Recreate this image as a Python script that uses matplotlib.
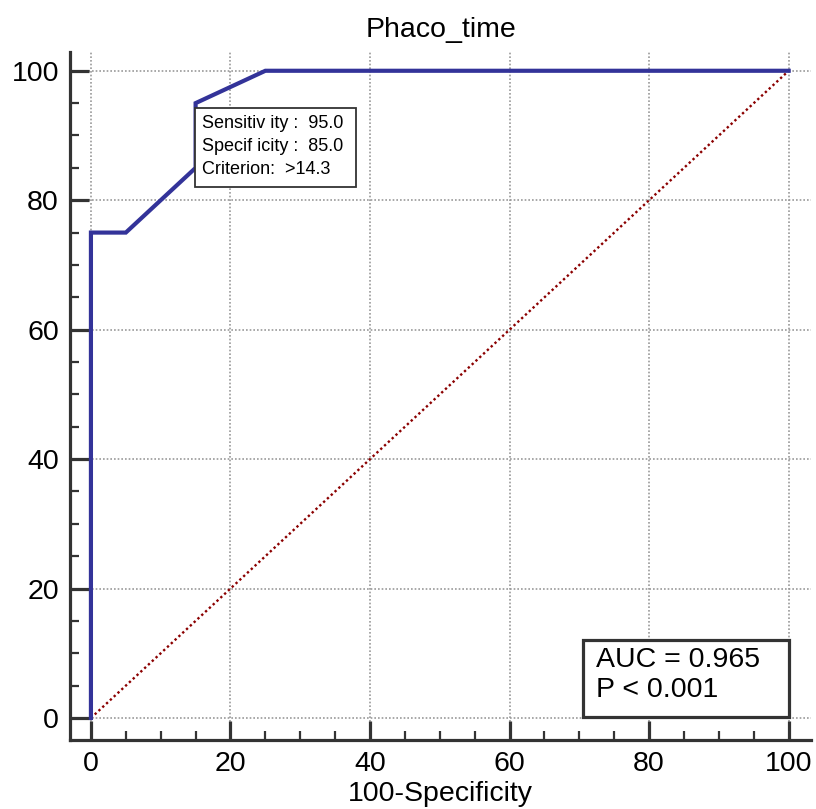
import matplotlib
matplotlib.use("Agg")
import matplotlib.pyplot as plt
from matplotlib.patches import Rectangle
from matplotlib.ticker import MultipleLocator

# ROC curve points (100-Specificity, Sensitivity)
fpr = [0, 0, 5, 15, 15, 25, 100]
tpr = [0, 75, 75, 85, 95, 100, 100]

title = "Phaco_time"
xlabel = "100-Specificity"
box_lines = ["Sensitiv ity :  95.0", "Specif icity :  85.0", "Criterion:  >14.3"]
auc_lines = ["AUC = 0.965", "P < 0.001"]

plt.rcParams['font.family'] = ['Liberation Sans', 'DejaVu Sans']

fig = plt.figure(figsize=(8.16, 8.09), dpi=100)
ax = fig.add_axes([70/816, 69/809, 741/816, 688/809])

ax.set_xlim(-3.0, 103.2)
ax.set_ylim(-3.4, 102.9)

dark = "#333333"
for s in ["top", "right"]:
    ax.spines[s].set_visible(False)
for s in ["left", "bottom"]:
    ax.spines[s].set_linewidth(2.3)
    ax.spines[s].set_color(dark)

ax.xaxis.set_major_locator(MultipleLocator(20))
ax.xaxis.set_minor_locator(MultipleLocator(5))
ax.yaxis.set_major_locator(MultipleLocator(20))
ax.yaxis.set_minor_locator(MultipleLocator(5))
ax.tick_params(which="major", direction="in", length=14, width=2.3, color=dark,
               labelsize=20.5, pad=8)
ax.tick_params(which="minor", direction="in", length=6.5, width=1.6, color=dark)

ax.grid(True, which="major", color="#999999", linestyle=(0, (1, 1.2)), linewidth=1.2)
ax.set_axisbelow(True)

# reference diagonal
ax.plot([0, 100], [0, 100], color="#8b0000", linestyle=(0, (1, 1.2)), linewidth=1.7, zorder=2)
# ROC curve
ax.plot(fpr, tpr, color="#333399", linewidth=3, zorder=3, solid_joinstyle="miter")

# criterion box
ax.add_patch(Rectangle((14.9, 82.1), 23.1, 12.2, facecolor="white", edgecolor=dark,
                       linewidth=1.3, zorder=4))
for i, t in enumerate(box_lines):
    ax.text(15.9, 91.8 - i * 3.55, t, fontsize=13, va="center", ha="left", zorder=5)

# AUC box
ax.add_patch(Rectangle((70.5, 0.15), 29.6, 11.9, facecolor="white", edgecolor=dark,
                       linewidth=2.3, zorder=4))
for i, t in enumerate(auc_lines):
    ax.text(72.4, 9.0 - i * 4.6, t, fontsize=20.5, va="center", ha="left", zorder=5)

ax.set_title(title, fontsize=20.5, pad=11)
ax.set_xlabel(xlabel, fontsize=20.5, labelpad=3)

fig.savefig("out.png", dpi=100)
